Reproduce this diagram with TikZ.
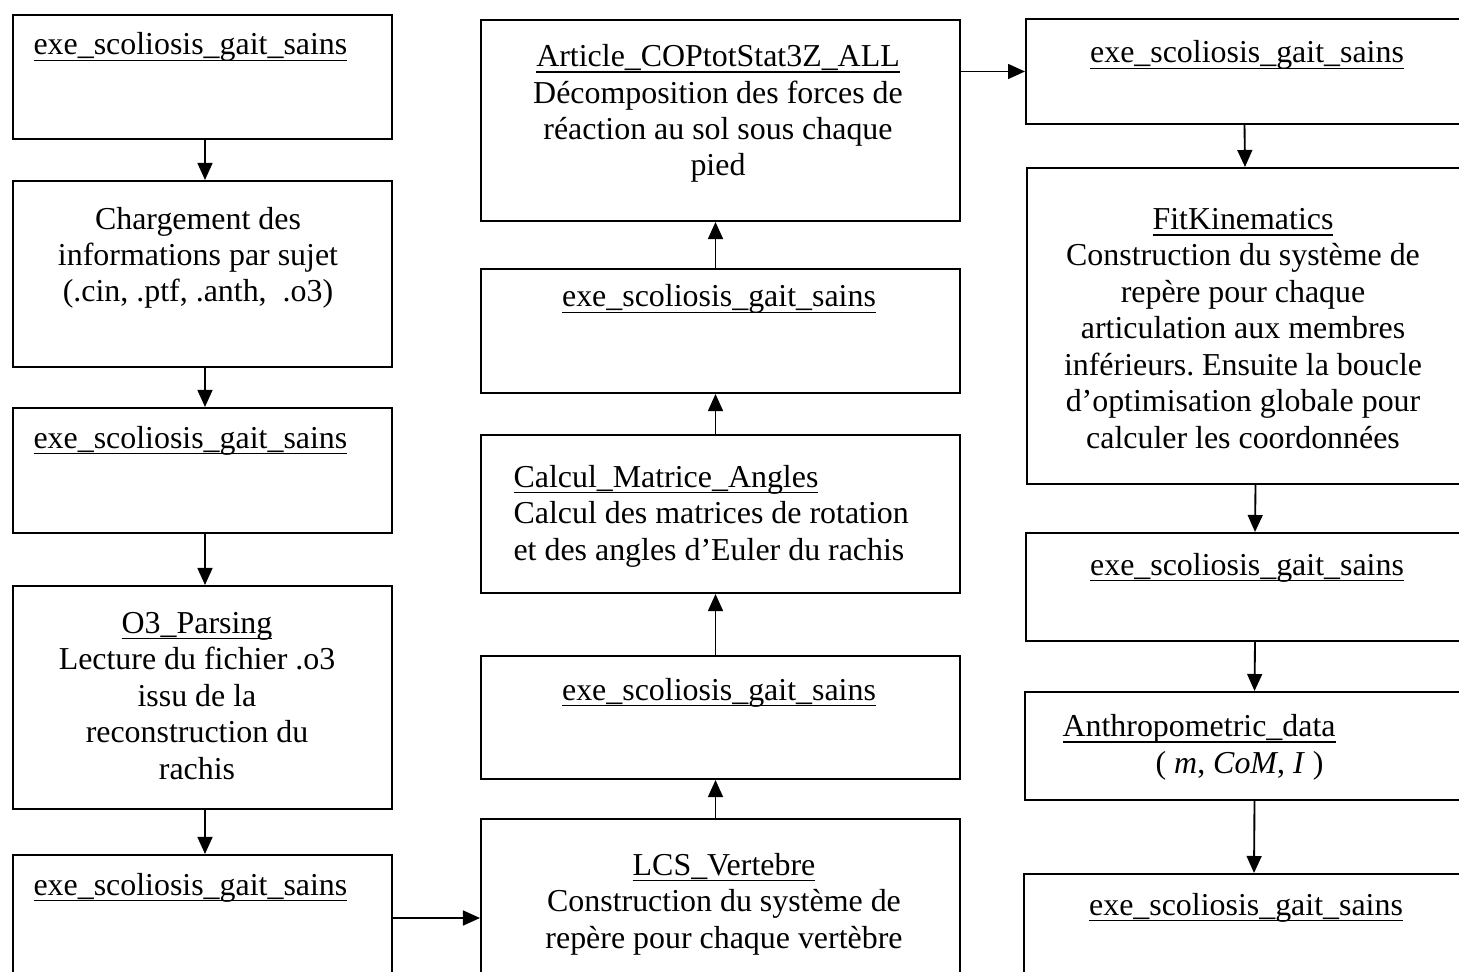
\documentclass[tikz,border=0pt]{standalone}
\usepackage{fontspec}
\setmainfont{Liberation Serif}
\usetikzlibrary{arrows.meta}
\frenchspacing
\newsavebox{\ulbox}
\newcommand{\ulin}[1]{\sbox{\ulbox}{#1}\rlap{\rule[-2.3pt]{\wd\ulbox}{0.5pt}}\usebox{\ulbox}}
\def\u{0.376pt}
\tikzset{
  box/.style={draw, line width=0.75pt, anchor=north west, inner sep=0pt},
  txt/.style={anchor=base, align=center, inner sep=0pt},
  ltxt/.style={anchor=base west, align=left, inner sep=0pt},
  arr/.style={-{Triangle[length=6.4pt,width=5.6pt]}, line width=0.7pt},
}
\begin{document}
\begin{tikzpicture}[x=\u, y=-\u, font=\fontsize{12}{13.7}\selectfont]
	\useasboundingbox (0,0) rectangle (1459,972);
	\clip (0,0) rectangle (1459,972);
	% left column
	\node[box, minimum width=379*\u, minimum height=124*\u] (gait1) at (12,14) {};
	\node[box, minimum width=379*\u, minimum height=186*\u] (charge) at (12,180) {};
	\node[box, minimum width=379*\u, minimum height=125*\u] (gait2) at (12,407) {};
	\node[box, minimum width=379*\u, minimum height=223*\u] (parse) at (12,585) {};
	\node[box, minimum width=379*\u, minimum height=126*\u] (gait3) at (12,854) {};
	% middle column
	\node[box, minimum width=479*\u, minimum height=201*\u] (cop) at (480,19) {};
	\node[box, minimum width=479*\u, minimum height=124*\u] (gait4) at (480,268) {};
	\node[box, minimum width=479*\u, minimum height=158*\u] (angles) at (480,434) {};
	\node[box, minimum width=479*\u, minimum height=123*\u] (gait5) at (480,655) {};
	\node[box, minimum width=479*\u, minimum height=198*\u] (lcs) at (480,818) {};
	% right column
	\node[box, minimum width=437*\u, minimum height=105*\u] (gait6) at (1025,18) {};
	\node[box, minimum width=436*\u, minimum height=316*\u] (fitkin) at (1026,167) {};
	\node[box, minimum width=437*\u, minimum height=108*\u] (gait7) at (1025,532) {};
	\node[box, minimum width=438*\u, minimum height=108*\u] (anthro) at (1024,691) {};
	\node[box, minimum width=439*\u, minimum height=120*\u] (gait8) at (1023,873) {};

	% texts (anchor = baseline of the last line)
	\node[ltxt] (gait1-t) at (33,55) {\ulin{exe\_scoliosis\_gait\_sains}};
	\node[txt] (charge-t) at (198,302) {Chargement des\\informations par sujet\\(.cin, .ptf, .anth,\ \ .o3)};
	\node[ltxt] (gait2-t) at (33,448) {\ulin{exe\_scoliosis\_gait\_sains}};
	\node[txt] (parse-t) at (197,779) {\ulin{O3\_Parsing}\\Lecture du fichier .o3\\issu de la\\reconstruction du\\rachis};
	\node[ltxt] (gait3-t) at (33,895) {\ulin{exe\_scoliosis\_gait\_sains}};
	\node[txt] (cop-t) at (718,176) {\ulin{Article\_COPtotStat3Z\_ALL}\\Décomposition des forces de\\réaction au sol sous chaque\\pied};
	\node[txt] (gait4-t) at (719,307) {\ulin{exe\_scoliosis\_gait\_sains}};
	\node[ltxt] (angles-t) at (513,560) {\ulin{Calcul\_Matrice\_Angles}\\Calcul des matrices de rotation\\et des angles d’Euler du rachis};
	\node[txt] (gait5-t) at (719,700) {\ulin{exe\_scoliosis\_gait\_sains}};
	\node[txt] (lcs-t) at (724,948) {\ulin{LCS\_Vertebre}\\Construction du système de\\repère pour chaque vertèbre};
	\node[txt] (gait6-t) at (1247,63) {\ulin{exe\_scoliosis\_gait\_sains}};
	\node[txt] (fitkin-t) at (1243,448) {\ulin{FitKinematics}\\Construction du système de\\repère pour chaque\\articulation aux membres\\inférieurs. Ensuite la boucle\\d’optimisation globale pour\\calculer les coordonnées};
	\node[txt] (gait7-t) at (1247,575) {\ulin{exe\_scoliosis\_gait\_sains}};
	\node[ltxt] (anthro-t) at (1062,773) {\ulin{Anthropometric\_data}\\\hspace*{35pt}( \textit{m}, \textit{CoM}, \textit{I} )};
	\node[txt] (gait8-t) at (1246,915) {\ulin{exe\_scoliosis\_gait\_sains}};

	% arrows
	\foreach \a/\b in {gait1/charge, charge/gait2, gait2/parse, parse/gait3}
		\draw[arr] ([xshift=2.5*\u]\a.south) -- ([xshift=2.5*\u]\b.north);
	\draw[arr] (gait3.east) -- (lcs.west);
	\foreach \a/\b in {lcs/gait5, gait5/angles, angles/gait4, gait4/cop}
		\draw[arr] ([xshift=-5*\u]\a.north) -- ([xshift=-5*\u]\b.south);
	\draw[arr] (cop.east |- gait6.west) -- (gait6.west);
	\draw[arr] (gait6.south) -- (fitkin.north);
	\foreach \a/\b in {fitkin/gait7, gait7/anthro, anthro/gait8}
		\draw[arr] ([xshift=10.5*\u]\a.south) -- ([xshift=10.5*\u]\b.north);
\end{tikzpicture}
\end{document}
